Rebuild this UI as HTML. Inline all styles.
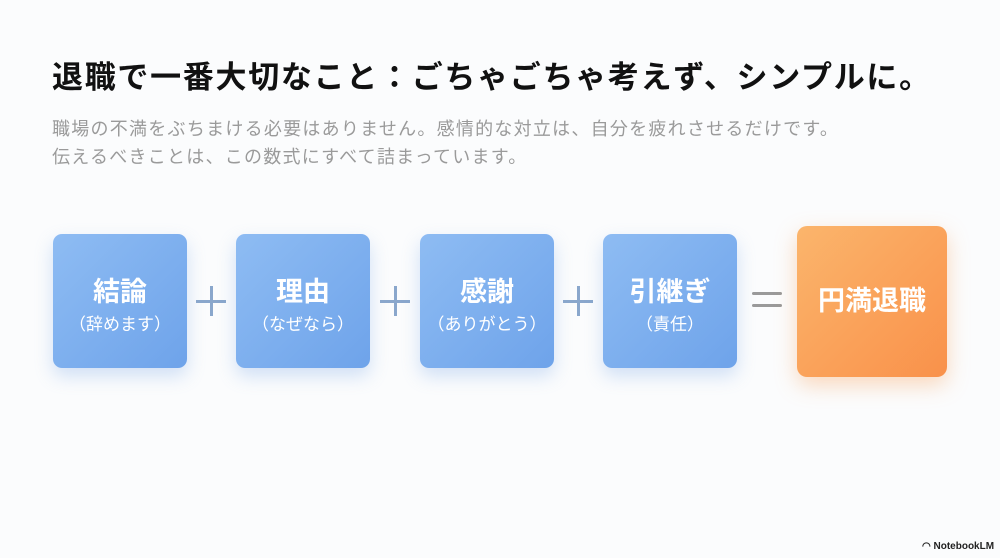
<!DOCTYPE html>
<html><head><meta charset="utf-8"><style>
body{margin:0;width:1000px;height:558px;background:#fbfcfd;position:relative;overflow:hidden;font-family:"Liberation Sans","Noto Sans CJK JP",sans-serif}
.t{position:absolute;left:52px;top:52px;font-size:31px;font-weight:bold;color:#111;white-space:nowrap;letter-spacing:1.7px}
.s{position:absolute;left:52px;font-size:18px;color:#9a9a9a;white-space:nowrap;letter-spacing:1.25px}
.b{position:absolute;top:234px;width:134px;height:134px;border-radius:9px;background:linear-gradient(135deg,#8ebcf3,#6ea3ea);box-shadow:0 8px 18px rgba(110,160,230,0.3);color:#fff;text-align:center}
.b .m{position:absolute;top:36px;width:100%;font-size:27px;font-weight:bold}
.b .n{position:absolute;top:76px;width:100%;font-size:17px}
.o{position:absolute;left:797px;top:226px;width:150px;height:151px;border-radius:10px;background:linear-gradient(135deg,#fbb56c,#f9914a);box-shadow:0 8px 22px rgba(250,150,70,0.35);color:#fff;font-size:27px;font-weight:bold;text-align:center;line-height:151px}
.p{position:absolute;top:286px;width:30px;height:30px}
.p:before{content:"";position:absolute;left:0;top:14px;width:30px;height:3px;background:#8aa7cc}
.p:after{content:"";position:absolute;left:14px;top:0;width:3px;height:30px;background:#8aa7cc}
</style></head><body>
<div class="t">退職で一番大切なこと：ごちゃごちゃ考えず、シンプルに。</div>
<div class="s" style="top:115px">職場の不満をぶちまける必要はありません。感情的な対立は、自分を疲れさせるだけです。</div>
<div class="s" style="top:143px">伝えるべきことは、この数式にすべて詰まっています。</div>
<div class="b" style="left:53px"><div class="m">結論</div><div class="n">（辞めます）</div></div>
<div class="p" style="left:196px"></div>
<div class="b" style="left:236px"><div class="m">理由</div><div class="n">（なぜなら）</div></div>
<div class="p" style="left:380px"></div>
<div class="b" style="left:420px"><div class="m">感謝</div><div class="n">（ありがとう）</div></div>
<div class="p" style="left:563px"></div>
<div class="b" style="left:603px"><div class="m">引継ぎ</div><div class="n">（責任）</div></div>
<div style="position:absolute;left:752px;top:292px;width:30px;height:3px;background:#9a9a9a;border-radius:2px"></div>
<div style="position:absolute;left:752px;top:304px;width:30px;height:3px;background:#9a9a9a;border-radius:2px"></div>
<div class="o">円満退職</div>
<div style="position:absolute;left:922px;top:541px;font-size:10px;font-weight:bold;color:#222;white-space:nowrap">◠ NotebookLM</div>
</body></html>
